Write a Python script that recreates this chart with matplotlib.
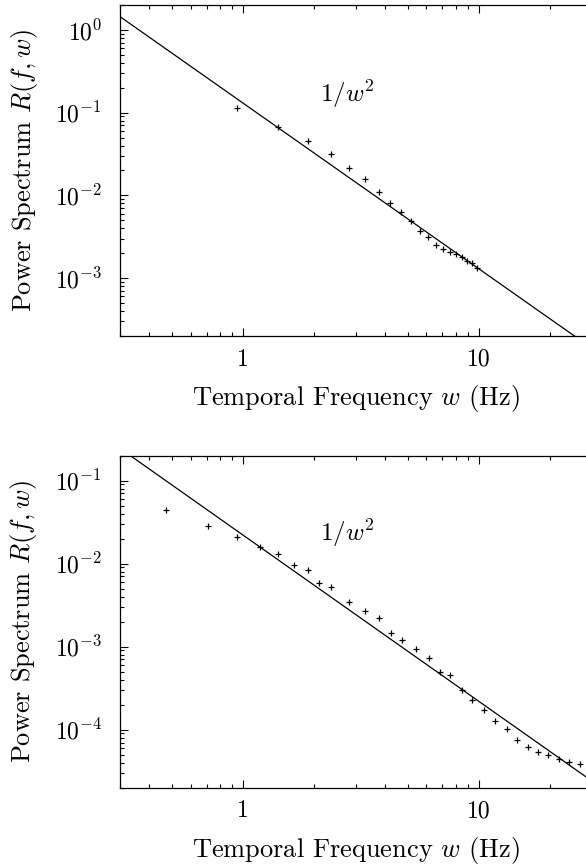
import matplotlib
matplotlib.use('Agg')
import matplotlib.pyplot as plt
import numpy as np
from matplotlib.ticker import LogLocator, FixedLocator, FixedFormatter

plt.rcParams['font.family'] = 'cmr10'
plt.rcParams['mathtext.fontset'] = 'cm'
plt.rcParams['axes.unicode_minus'] = False
plt.rcParams['axes.formatter.use_mathtext'] = True

# top panel data
w_top = [0.94, 1.41, 1.88, 2.36, 2.82, 3.29, 3.76, 4.21, 4.69, 5.16,
         5.64, 6.11, 6.57, 7.06, 7.53, 7.99, 8.47, 8.94, 9.40, 9.87]
r_top = [0.115, 0.067, 0.0455, 0.0312, 0.0215, 0.0157, 0.0110, 0.0080, 0.00624, 0.0049,
         0.00374, 0.00312, 0.0025, 0.00223, 0.00207, 0.00195, 0.00181, 0.00163, 0.00152, 0.00132]

# bottom panel data
w_bot = [0.470, 0.706, 0.94, 1.177, 1.408, 1.646, 1.88, 2.107, 2.355, 2.823,
         3.293, 3.77, 4.233, 4.713, 5.40, 6.14, 6.85, 7.53, 8.47, 9.40,
         10.56, 11.75, 13.18, 14.58, 16.23, 17.9, 19.74, 21.98, 24.3, 26.9]
r_bot = [0.0444, 0.0281, 0.0211, 0.0158, 0.0131, 0.00968, 0.00848, 0.00585, 0.00518, 0.00342,
         0.00265, 0.00223, 0.00144, 0.00121, 0.000937, 0.000731, 0.0005, 0.00046, 0.000303, 0.000226,
         0.000171, 0.000127, 0.000101, 7.59e-5, 6.19e-5, 5.44e-5, 4.96e-5, 4.47e-5, 4.08e-5, 3.82e-5]

# amplitude of the 1/w^2 reference lines
c_top = 0.13
c_bot = 0.022

fig = plt.figure(figsize=(5.86, 8.67), dpi=100)
ax1 = fig.add_axes([0.2048, 0.6125, 0.8038, 0.3818])
ax2 = fig.add_axes([0.2048, 0.0915, 0.8038, 0.383])

w_line = np.logspace(np.log10(0.3), np.log10(30), 200)

panels = [(ax1, w_top, r_top, c_top, (2e-4, 2), 0.134),
          (ax2, w_bot, r_bot, c_bot, (2e-5, 0.2), 0.0186)]

for ax, w, r, c, ylim, label_y in panels:
    ax.plot(w_line, c / w_line**2, color='black', lw=0.9)
    ax.plot(w, r, '+', color='black', ms=5, mew=0.9)
    ax.set_xscale('log')
    ax.set_yscale('log')
    ax.set_xlim(0.3, 30)
    ax.set_ylim(*ylim)
    ax.xaxis.set_major_locator(FixedLocator([1, 10]))
    ax.xaxis.set_major_formatter(FixedFormatter(['1', '10']))
    ax.xaxis.set_minor_locator(LogLocator(base=10, subs=np.arange(2, 10)))
    ax.xaxis.set_minor_formatter(plt.NullFormatter())
    ax.yaxis.set_minor_locator(LogLocator(base=10, subs=np.arange(2, 10), numticks=20))
    ax.tick_params(which='both', direction='in', top=True, right=False, labelsize=17)
    ax.tick_params(which='major', length=6, width=0.8)
    ax.tick_params(which='minor', length=3, width=0.8)
    ax.tick_params(axis='x', which='major', pad=9)
    ax.tick_params(axis='y', which='major', pad=13)
    for s in ax.spines.values():
        s.set_linewidth(0.9)
    ax.set_xlabel(r'Temporal Frequency $w$ (Hz)', fontsize=19, labelpad=9)
    ax.set_ylabel(r'Power Spectrum $R(f,w)$', fontsize=19, labelpad=11)
    ax.text(2.12, label_y, r'$1/w^2$', fontsize=18, ha='left', va='baseline')

plt.savefig('out.png', dpi=100)
